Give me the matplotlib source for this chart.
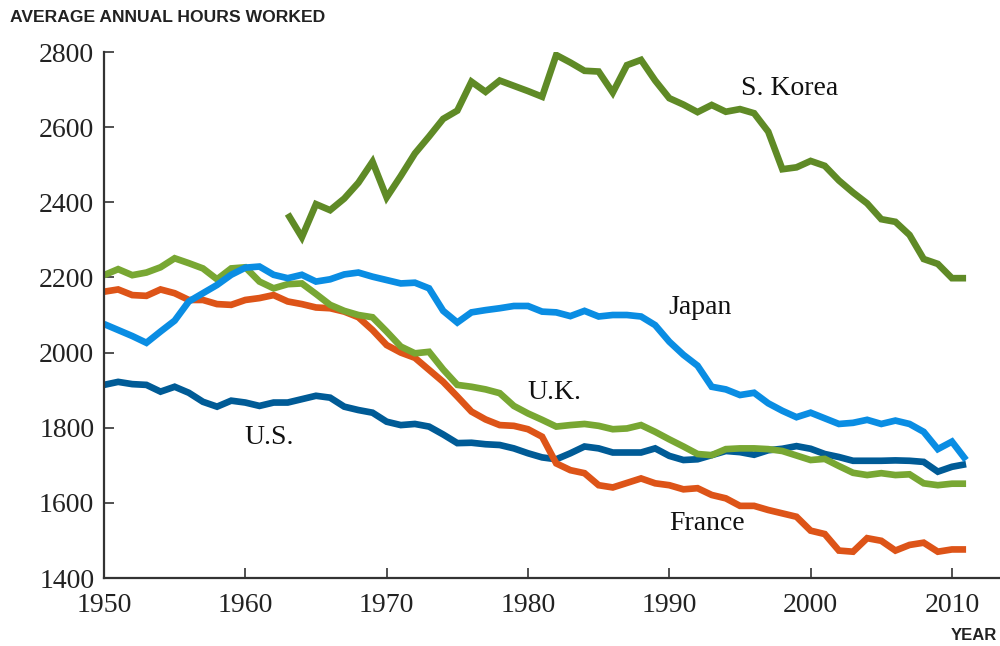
import matplotlib
matplotlib.use("Agg")
import matplotlib.pyplot as plt
import numpy as np

years = list(range(1950, 2012))
korea_years = list(range(1963, 2012))

us = [1914, 1922, 1916, 1914, 1896, 1909, 1893, 1869, 1856, 1872,
      1867, 1858, 1867, 1867, 1876, 1885, 1880, 1856, 1847, 1840,
      1816, 1807, 1810, 1803, 1782, 1759, 1760, 1756, 1754, 1745,
      1732, 1721, 1716, 1732, 1750, 1745, 1734, 1734, 1734, 1745,
      1725, 1714, 1716, 1727, 1738, 1735, 1728, 1740, 1744, 1751,
      1744, 1730, 1722, 1712, 1712, 1712, 1713, 1712, 1709, 1683,
      1696, 1703]

uk = [2206, 2222, 2206, 2213, 2227, 2251, 2238, 2224, 2195, 2224,
      2227, 2189, 2171, 2182, 2184, 2156, 2127, 2111, 2100, 2094,
      2056, 2016, 1998, 2002, 1955, 1914, 1909, 1902, 1892, 1858,
      1838, 1821, 1803, 1807, 1810, 1805, 1796, 1798, 1807, 1789,
      1769, 1750, 1730, 1727, 1743, 1745, 1745, 1743, 1738, 1726,
      1714, 1717, 1698, 1680, 1674, 1679, 1674, 1676, 1652, 1647,
      1651, 1651]

france = [2162, 2168, 2153, 2151, 2168, 2158, 2140, 2140, 2129, 2127,
          2140, 2145, 2153, 2136, 2129, 2120, 2118, 2109, 2094, 2060,
          2020, 2000, 1986, 1954, 1922, 1883, 1843, 1822, 1807, 1805,
          1796, 1776, 1705, 1687, 1679, 1647, 1641, 1653, 1665, 1652,
          1647, 1636, 1639, 1621, 1612, 1592, 1592, 1581, 1572, 1563,
          1526, 1517, 1473, 1470, 1506, 1499, 1473, 1488, 1494, 1470,
          1476, 1476]

japan = [2076, 2060, 2044, 2026, 2056, 2085, 2136, 2158, 2180, 2207,
         2226, 2229, 2207, 2198, 2207, 2189, 2195, 2208, 2213, 2202,
         2193, 2184, 2186, 2171, 2111, 2080, 2107, 2113, 2118, 2124,
         2124, 2109, 2107, 2097, 2111, 2096, 2100, 2100, 2096, 2073,
         2029, 1994, 1965, 1909, 1902, 1887, 1893, 1865, 1845, 1828,
         1840, 1825, 1810, 1813, 1821, 1810, 1819, 1810, 1789, 1743,
         1763, 1714]

korea = [2369, 2307, 2395, 2379, 2410, 2452, 2508, 2413, 2470, 2530,
         2575, 2622, 2644, 2721, 2694, 2724, 2710, 2696, 2681, 2792,
         2772, 2750, 2748, 2692, 2765, 2779, 2724, 2677, 2660, 2640,
         2659, 2641, 2648, 2637, 2588, 2488, 2493, 2510, 2497, 2458,
         2426, 2397, 2355, 2348, 2313, 2249, 2236, 2198, 2198]

x_ticks = [1950, 1960, 1970, 1980, 1990, 2000, 2010]
y_ticks = [1400, 1600, 1800, 2000, 2200, 2400, 2600, 2800]

series_labels = {
    "S. Korea": (1998.5, 2704),
    "Japan": (1992.2, 2119),
    "U.K.": (1981.9, 1895),
    "U.S.": (1961.7, 1775),
    "France": (1992.7, 1546),
}

c_korea = "#5f8a26"
c_uk = "#78a733"
c_japan = "#0a8de3"
c_us = "#005b96"
c_france = "#dd5418"

fig = plt.figure(figsize=(10, 6.46), dpi=100)
ax = fig.add_axes([0.104, 1 - 578 / 646, 0.896, (578 - 52) / 646])

lw = 4.8
kw = dict(lw=lw, solid_joinstyle="miter", solid_capstyle="butt")
ax.plot(years, us, color=c_us, **kw)
ax.plot(years, france, color=c_france, **kw)
ax.plot(years, uk, color=c_uk, **kw)
ax.plot(years, japan, color=c_japan, **kw)
ax.plot(korea_years, korea, color=c_korea, **kw)

ax.set_xlim(1950, 2013.4)
ax.set_ylim(1400, 2800)
ax.set_xticks(x_ticks)
ax.set_yticks(y_ticks)

serif = "Liberation Serif"
ax.set_xticklabels([str(v) for v in x_ticks], fontfamily=serif, fontsize=20, color="#222222")
ax.set_yticklabels([str(v) for v in y_ticks], fontfamily=serif, fontsize=20, color="#222222")

for s in ["top", "right"]:
    ax.spines[s].set_visible(False)
for s in ["left", "bottom"]:
    ax.spines[s].set_color("#333333")
    ax.spines[s].set_linewidth(1.6)
ax.tick_params(axis="both", direction="in", length=7, width=1.2, color="#333333")
ax.tick_params(axis="x", pad=11)
ax.tick_params(axis="y", pad=7)

for name, (xx, yy) in series_labels.items():
    ax.text(xx, yy, name, fontfamily=serif, fontsize=20, color="#111111",
            ha="center", va="center")

fig.text(0.010, 1 - 18 / 646, "AVERAGE ANNUAL HOURS WORKED", fontfamily="Liberation Sans",
         fontweight="bold", fontsize=12.6, color="#222222", ha="left", va="center")
fig.text(0.997, 1 - 635 / 646, "YEAR", fontfamily="Liberation Sans",
         fontweight="bold", fontsize=12, color="#222222", ha="right", va="center")

fig.savefig("out.png", dpi=100)
